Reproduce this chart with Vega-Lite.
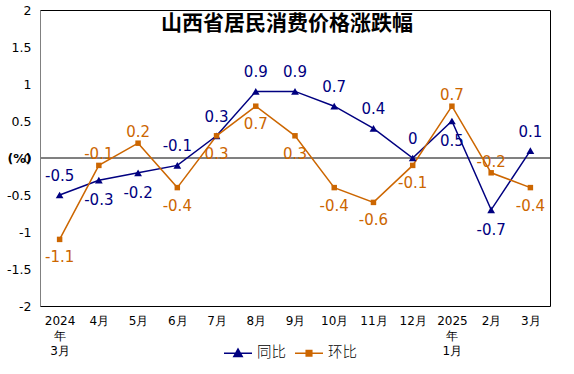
{
  "$schema": "https://vega.github.io/schema/vega-lite/v6.json",
  "width": 510,
  "height": 296,
  "autosize": {"type": "none"},
  "padding": {"left": 40, "top": 10, "right": 24, "bottom": 68},
  "title": {
    "text": "山西省居民消费价格涨跌幅",
    "font": "Noto Sans CJK SC",
    "fontSize": 21,
    "fontWeight": "bold",
    "color": "#000000",
    "anchor": "middle",
    "offset": -30,
    "dx": -8
  },
  "config": {
    "view": {"stroke": "#000000", "strokeWidth": 1},
    "font": "DejaVu Sans"
  },
  "data": {
    "values": [
      {"month": "2024年3月", "同比": -0.5, "环比": -1.1},
      {"month": "4月", "同比": -0.3, "环比": -0.1},
      {"month": "5月", "同比": -0.2, "环比": 0.2},
      {"month": "6月", "同比": -0.1, "环比": -0.4},
      {"month": "7月", "同比": 0.3, "环比": 0.3},
      {"month": "8月", "同比": 0.9, "环比": 0.7},
      {"month": "9月", "同比": 0.9, "环比": 0.3},
      {"month": "10月", "同比": 0.7, "环比": -0.4},
      {"month": "11月", "同比": 0.4, "环比": -0.6},
      {"month": "12月", "同比": 0, "环比": -0.1},
      {"month": "2025年1月", "同比": 0.5, "环比": 0.7},
      {"month": "2月", "同比": -0.7, "环比": -0.2},
      {"month": "3月", "同比": 0.1, "环比": -0.4}
    ]
  },
  "transform": [
    {"fold": ["同比", "环比"], "as": ["series", "value"]},
    {"calculate": "datum.series == '同比' ? datum['同比'] >= datum['环比'] : datum['环比'] > datum['同比']", "as": "above"},
    {"calculate": "'' + datum.value", "as": "label"}
  ],
  "encoding": {
    "x": {
      "field": "month",
      "type": "ordinal",
      "sort": null,
      "axis": {
        "title": null,
        "labelAngle": 0,
        "ticks": false,
        "domain": false,
        "labelPadding": 9,
        "labelFontSize": 12,
        "labelColor": "#000000",
        "labelLineHeight": 15,
        "labelFont": "DejaVu Sans",
        "labelExpr": "indexof(datum.value, '年') > 0 ? [substring(datum.value, 0, 4), '年', substring(datum.value, 5)] : datum.value"
      }
    },
    "y": {
      "field": "value",
      "type": "quantitative",
      "scale": {"domain": [-2, 2], "nice": false, "zero": false},
      "axis": {
        "values": [-2, -1.5, -1, -0.5, 0, 0.5, 1, 1.5, 2],
        "grid": false,
        "ticks": false,
        "domainColor": "#808080",
        "labelPadding": 9,
        "labelFontSize": 12.5,
        "labelColor": "#000000",
        "labelExpr": "'' + datum.value",
        "title": "(%)",
        "titleAngle": 0,
        "titleX": -21,
        "titleY": 148,
        "titleAlign": "center",
        "titleBaseline": "middle",
        "titleFontSize": 12.5,
        "titleFontWeight": "bold",
        "titleColor": "#000000"
      }
    }
  },
  "layer": [
    {
      "mark": {"type": "rule", "color": "#808080", "strokeWidth": 1},
      "encoding": {"y": {"datum": 0}, "x": null}
    },
    {
      "mark": {"type": "line", "strokeWidth": 1.5},
      "encoding": {
        "color": {
          "field": "series",
          "type": "nominal",
          "scale": {"domain": ["同比", "环比"], "range": ["#000080", "#CC6600"]},
          "legend": {
            "title": null,
            "orient": "none",
            "direction": "horizontal",
            "legendX": 183,
            "legendY": 328,
            "labelFont": "Noto Sans CJK SC",
            "labelFontSize": 14.5,
            "labelFontWeight": 300,
            "labelColor": "#000000",
            "labelOffset": 4,
            "columnPadding": 6,
            "symbolSize": 784,
            "symbolStrokeWidth": 1.5,
            "encode": {
              "symbols": {
                "update": {
                  "shape": {"signal": "datum.value == '同比' ? 'M-1,0H1M-0.3,0.24L0,-0.3L0.3,0.24Z' : 'M-1,0H1M-0.2,-0.2H0.2V0.2H-0.2Z'"},
                  "size": {"value": 784},
                  "fill": {"signal": "scale('color', datum.value)"},
                  "stroke": {"signal": "scale('color', datum.value)"},
                  "strokeWidth": {"value": 1.5},
                  "opacity": {"value": 1},
                  "fillOpacity": {"value": 1},
                  "strokeOpacity": {"value": 1}
                }
              }
            }
          }
        }
      }
    },
    {
      "transform": [{"filter": "datum.series == '同比'"}],
      "mark": {"type": "point", "filled": true, "opacity": 1, "shape": "triangle-up", "size": 60, "color": "#000080"}
    },
    {
      "transform": [{"filter": "datum.series == '环比'"}],
      "mark": {"type": "point", "filled": true, "opacity": 1, "shape": "square", "size": 30, "color": "#CC6600"}
    },
    {
      "transform": [{"filter": "datum.series == '同比' && datum.above"}],
      "mark": {"type": "text", "fontSize": 15, "dy": -19, "baseline": "middle", "font": "DejaVu Sans", "color": "#000080"},
      "encoding": {"text": {"field": "label", "type": "nominal"}}
    },
    {
      "transform": [{"filter": "datum.series == '同比' && !datum.above"}],
      "mark": {"type": "text", "fontSize": 15, "dy": 20, "baseline": "middle", "font": "DejaVu Sans", "color": "#000080"},
      "encoding": {"text": {"field": "label", "type": "nominal"}}
    },
    {
      "transform": [{"filter": "datum.series == '环比' && datum.above"}],
      "mark": {"type": "text", "fontSize": 15, "dy": -11, "baseline": "middle", "font": "DejaVu Sans", "color": "#CC6600"},
      "encoding": {"text": {"field": "label", "type": "nominal"}}
    },
    {
      "transform": [{"filter": "datum.series == '环比' && !datum.above"}],
      "mark": {"type": "text", "fontSize": 15, "dy": 18, "baseline": "middle", "font": "DejaVu Sans", "color": "#CC6600"},
      "encoding": {"text": {"field": "label", "type": "nominal"}}
    }
  ]
}
